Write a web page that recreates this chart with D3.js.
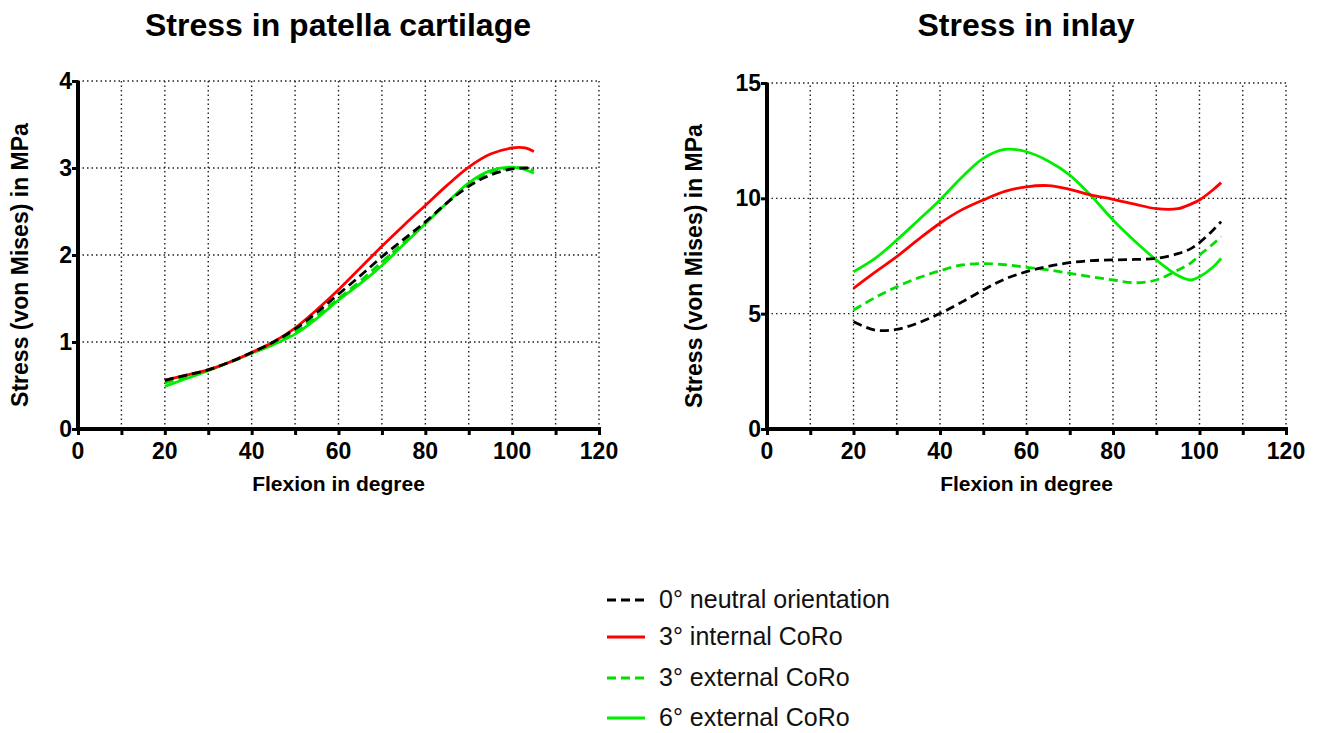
<!DOCTYPE html>
<html><head><meta charset="utf-8">
<script src="https://cdn.jsdelivr.net/npm/d3@7"></script>
<style>body{margin:0;background:#fff;}svg{display:block;font-family:Arial,"Liberation Sans",sans-serif;}</style>
</head><body><svg id="c" width="1322" height="733"></svg>
<script>
const seriesNames = ["0° neutral orientation","3° internal CoRo","3° external CoRo","6° external CoRo"];
const seriesColors = ["#000000","#ff0000","#00dd00","#00ee00"];
const seriesDashed = [true,false,true,false];

// Left: Stress in patella cartilage
const leftX = [20,25,30,35,40,45,50,55,60,65,70,75,80,85,90,95,100,103,105];
const leftNeutral = [0.56,0.62,0.68,0.77,0.88,1.0,1.15,1.34,1.55,1.76,1.98,2.18,2.38,2.6,2.79,2.92,2.99,3.0,3.0];
const leftInt3 = [0.56,0.62,0.68,0.77,0.88,1.0,1.16,1.37,1.6,1.85,2.1,2.34,2.57,2.8,3.01,3.16,3.23,3.23,3.19];
const leftExt3 = [0.53,0.6,0.68,0.77,0.87,0.98,1.12,1.3,1.5,1.7,1.92,2.14,2.37,2.6,2.81,2.95,3.0,3.0,2.97];
const leftExt6 = [0.49,0.58,0.67,0.77,0.87,0.97,1.09,1.27,1.48,1.67,1.88,2.12,2.36,2.6,2.83,2.97,3.01,2.98,2.94];

// Right: Stress in inlay
const rightX = [20,25,30,35,40,45,50,55,60,65,70,75,80,85,90,95,98,100,103,105];
const rightNeutral = [4.65,4.29,4.32,4.6,5.01,5.5,6.03,6.5,6.82,7.05,7.21,7.3,7.33,7.35,7.4,7.6,7.82,8.08,8.6,8.99];
const rightInt3 = [6.1,6.8,7.47,8.22,8.92,9.5,9.93,10.3,10.5,10.55,10.39,10.14,9.96,9.75,9.55,9.55,9.75,9.93,10.35,10.68];
const rightExt3 = [5.16,5.7,6.17,6.55,6.86,7.11,7.17,7.12,7.01,6.9,6.75,6.6,6.46,6.34,6.46,6.89,7.2,7.54,8.0,8.34];
const rightExt6 = [6.82,7.4,8.19,9.05,9.93,10.9,11.73,12.12,12.02,11.62,11.01,10.1,9.06,8.15,7.33,6.65,6.46,6.6,7.0,7.4];

const xTicks = [0,20,40,60,80,100,120];
const xGrid = [0,10,20,30,40,50,60,70,80,90,100,110,120];
const leftYTicks = [0,1,2,3,4];
const rightYTicks = [0,5,10,15];

const svg = d3.select("#c");
svg.append("rect").attr("width",1322).attr("height",733).attr("fill","#fff");

function panel(opt){
  const g = svg.append("g");
  const x = d3.scaleLinear().domain([0,120]).range([opt.x0,opt.x1]);
  const y = d3.scaleLinear().domain([0,opt.ymax]).range([429,opt.ytop]);
  g.append("g").selectAll("line").data(xGrid.filter(d=>d>0)).join("line")
    .attr("x1",d=>x(d)).attr("x2",d=>x(d)).attr("y1",y(0)).attr("y2",y(opt.ymax))
    .attr("stroke","#222").attr("stroke-width",1.4).attr("stroke-dasharray","1.5,3");
  g.append("g").selectAll("line").data(opt.yTicks.filter(d=>d>0)).join("line")
    .attr("x1",x(0)).attr("x2",x(120)).attr("y1",d=>y(d)).attr("y2",d=>y(d))
    .attr("stroke","#222").attr("stroke-width",1.4).attr("stroke-dasharray","1.5,3");
  const line = d3.line().x(d=>x(d[0])).y(d=>y(d[1])).curve(d3.curveCatmullRom.alpha(0.5));
  [3,2,1,0].forEach(i=>{
    const vals = opt.series[i];
    g.append("path").datum(opt.xs.map((xx,k)=>[xx,vals[k]]))
      .attr("d",line).attr("fill","none").attr("stroke",seriesColors[i])
      .attr("stroke-width",2.8).attr("stroke-dasharray",seriesDashed[i]?"9,5":null);
  });
  const xa = g.append("g").attr("transform",`translate(0,${y(0)})`)
    .call(d3.axisBottom(x).tickValues(xGrid).tickSize(6).tickFormat(""));
  xa.select(".domain").attr("stroke-width",4).attr("d",`M${x(0)-2},0H${x(120)+2}`);
  xa.selectAll(".tick line").attr("stroke-width",3);
  g.append("g").selectAll("text").data(xTicks).join("text")
    .attr("x",d=>x(d)).attr("y",y(0)+30).attr("text-anchor","middle")
    .attr("font-size",23).attr("font-weight","bold").text(d=>d);
  const ya = g.append("g").attr("transform",`translate(${x(0)},0)`)
    .call(d3.axisLeft(y).tickValues(opt.yTicks).tickSize(6).tickFormat(""));
  ya.select(".domain").attr("stroke-width",4).attr("d",`M0,${y(0)+2}V${y(opt.ymax)}`);
  ya.selectAll(".tick line").attr("stroke-width",3);
  g.append("g").selectAll("text").data(opt.yTicks).join("text")
    .attr("x",x(0)-6).attr("y",d=>y(d)+8).attr("text-anchor","end")
    .attr("font-size",23).attr("font-weight","bold").text(d=>d);
  g.append("text").attr("x",opt.titleX).attr("y",36).attr("text-anchor","middle")
    .attr("font-size",32).attr("font-weight","bold").text(opt.title);
  g.append("text").attr("x",(x(0)+x(120))/2).attr("y",491).attr("text-anchor","middle")
    .attr("font-size",21).attr("font-weight","bold").text("Flexion in degree");
  g.append("text").attr("transform",`translate(${opt.ylabX},${(y(0)+y(opt.ymax))/2+10}) rotate(-90)`)
    .attr("text-anchor","middle").attr("font-size",23).attr("font-weight","bold")
    .text("Stress (von Mises) in MPa");
}

panel({x0:78,x1:599,ytop:81,ymax:4,yTicks:leftYTicks,xs:leftX,
  series:[leftNeutral,leftInt3,leftExt3,leftExt6],title:"Stress in patella cartilage",titleX:338,ylabX:28});
panel({x0:767,x1:1286,ytop:83,ymax:15,yTicks:rightYTicks,xs:rightX,
  series:[rightNeutral,rightInt3,rightExt3,rightExt6],title:"Stress in inlay",titleX:1026,ylabX:702});

const legY = [600,637,678,718];
const lg = svg.append("g");
seriesNames.forEach((n,i)=>{
  lg.append("line").attr("x1",607).attr("x2",645).attr("y1",legY[i]).attr("y2",legY[i])
    .attr("stroke",seriesColors[i]).attr("stroke-width",2.8)
    .attr("stroke-dasharray",seriesDashed[i]?"9,5":null);
  lg.append("text").attr("x",659).attr("y",legY[i]+8).attr("font-size",25).attr("fill","#111").text(n);
});
</script></body></html>
